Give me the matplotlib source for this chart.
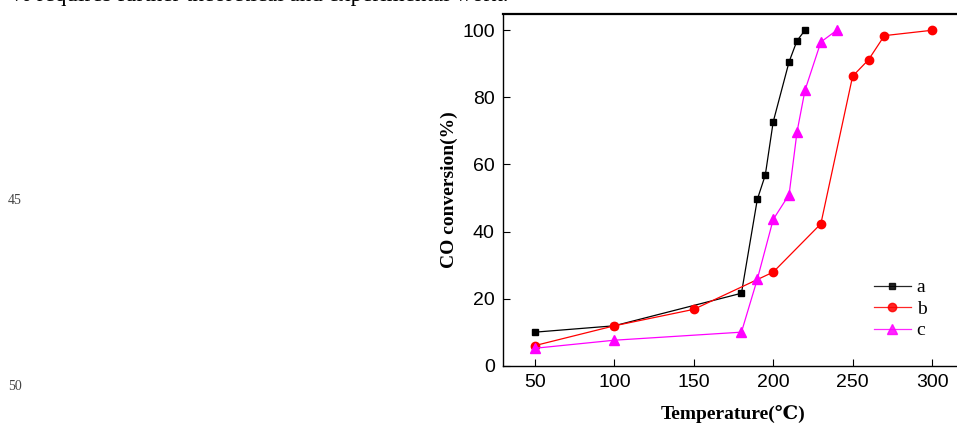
import matplotlib
matplotlib.use("Agg")
import matplotlib.pyplot as plt

# CO conversion vs temperature for three samples
temp_a = [50, 100, 180, 190, 195, 200, 210, 215, 220]
conv_a = [10.0, 11.9, 21.6, 49.6, 56.8, 72.7, 90.6, 96.9, 100.0]

temp_b = [50, 100, 150, 200, 230, 250, 260, 270, 300]
conv_b = [6.0, 11.9, 16.8, 27.9, 42.3, 86.3, 91.2, 98.4, 100.0]

temp_c = [50, 100, 180, 190, 200, 210, 215, 220, 230, 240]
conv_c = [5.2, 7.6, 10.0, 25.8, 43.6, 51.0, 69.7, 82.1, 96.5, 100.0]

x_ticks = [50, 100, 150, 200, 250, 300]
y_ticks = [0, 20, 40, 60, 80, 100]

serif = ["Liberation Serif", "DejaVu Serif"]
sans = ["Liberation Sans", "DejaVu Sans"]

fig = plt.figure(figsize=(9.57, 4.24), dpi=100)
# axes runs past the right edge of the page crop
ax = fig.add_axes([503.2 / 957, 58.3 / 424, 460.6 / 957, 352.2 / 424])

ax.plot(temp_a, conv_a, color="black", marker="s", ms=5, lw=0.9, label="a")
ax.plot(temp_b, conv_b, color="#ff0000", marker="o", ms=6, lw=0.9, label="b")
ax.plot(temp_c, conv_c, color="#ff00ff", marker="^", ms=6.5, lw=0.9, label="c")

ax.set_xlim(30, 320)
ax.set_ylim(0, 105)
ax.set_xticks(x_ticks)
ax.set_yticks(y_ticks)
ax.tick_params(direction="in", length=5, width=0.8, labelsize=14, pad=6)
for lbl in ax.get_xticklabels() + ax.get_yticklabels():
    lbl.set_family(sans)

ax.spines["right"].set_visible(False)
ax.spines["left"].set_linewidth(1.0)
ax.spines["bottom"].set_linewidth(1.0)
ax.spines["top"].set_linewidth(1.6)

ax.set_xlabel("Temperature(\u2103)", family=serif, fontweight="bold",
              fontsize=14, labelpad=10)
ax.set_ylabel("CO conversion(%)", family=serif, fontweight="bold",
              fontsize=14, labelpad=3)

leg = ax.legend(loc="lower right", bbox_to_anchor=(0.957, 0.025), frameon=False,
                prop={"family": serif, "size": 14}, handlelength=1.9,
                handletextpad=0.3, labelspacing=0.2)
for h in leg.get_lines():
    h.set_alpha(0.85)

# surrounding page bits of the scanned document
fig.text(12 / 957, 1 - 1 / 424, "% requires further theoretical and experimental work.",
         family=serif, fontsize=16.7, va="baseline", ha="left")
fig.text(8 / 957, 1 - 200 / 424, "45", family=serif, fontsize=10,
         color="#444444", va="center")
fig.text(8 / 957, 1 - 386 / 424, "50", family=serif, fontsize=10,
         color="#444444", va="center")

fig.savefig("out.png", dpi=100)
plt.close(fig)
